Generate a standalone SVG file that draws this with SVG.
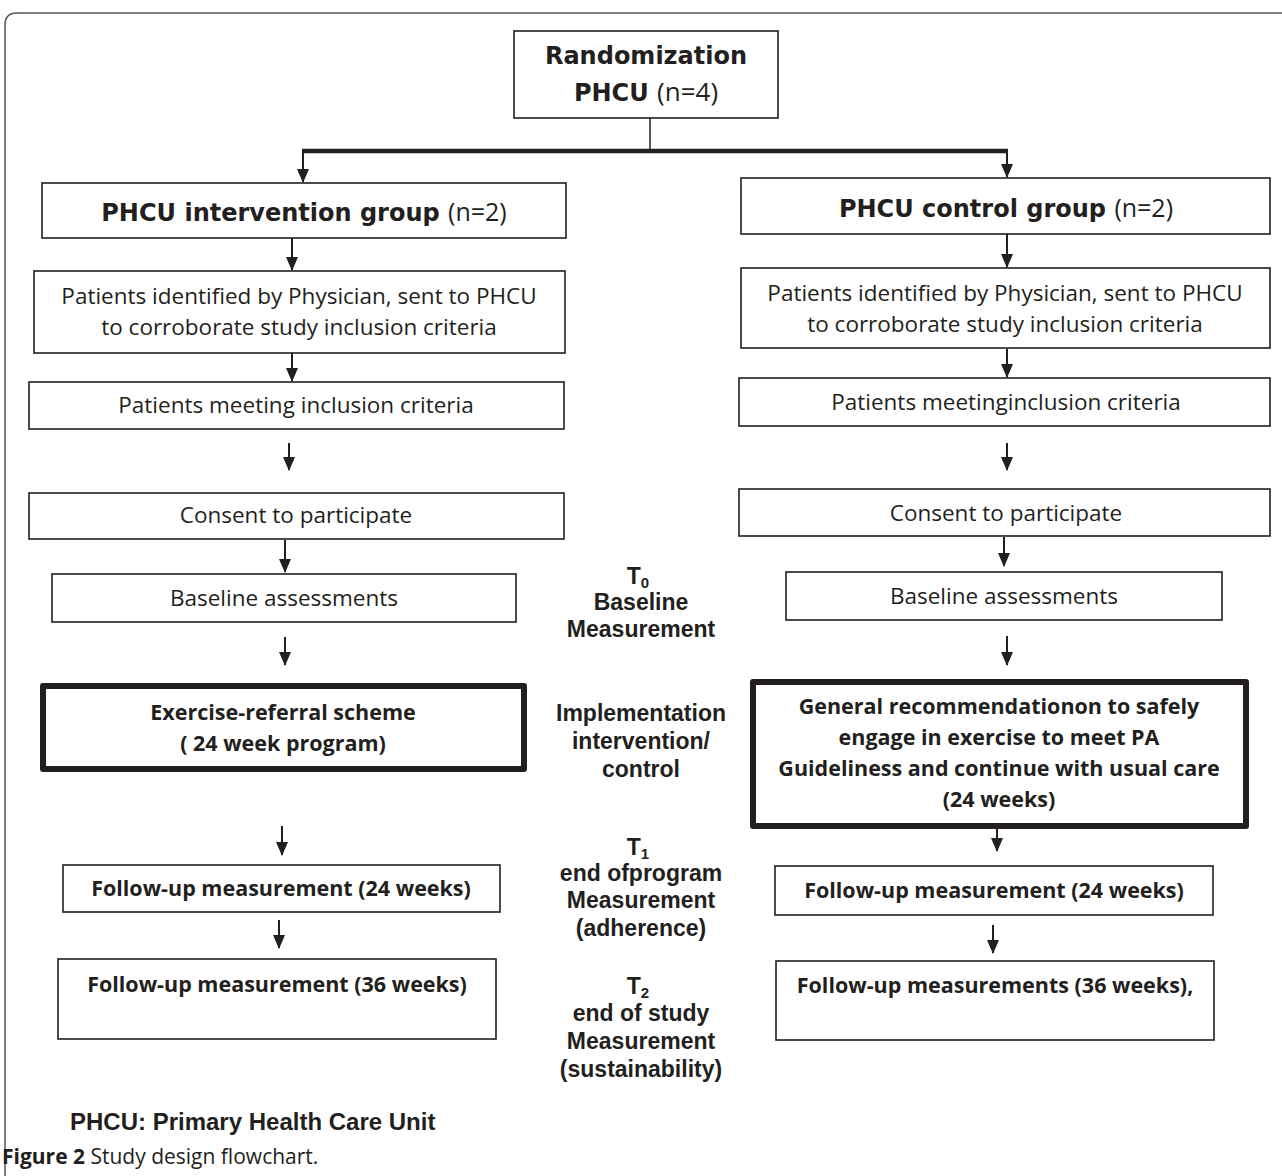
<svg xmlns="http://www.w3.org/2000/svg" width="1282" height="1176" viewBox="0 0 1282 1176">
<defs>
<marker id="ad" markerUnits="userSpaceOnUse" markerWidth="12" markerHeight="14" refX="6" refY="13" orient="0" viewBox="0 0 12 14">
<path d="M0,0 L12,0 L6,14 Z" fill="#231f20"/>
</marker>
</defs>
<style>
.box{fill:#fff;stroke:#231f20;stroke-width:1.6}
.thick{fill:#fff;stroke:#231f20;stroke-width:6;stroke-linejoin:round}
.t{font-family:"Open Sans","Liberation Sans",sans-serif;font-size:22.5px;fill:#231f20;text-anchor:middle}
.tb{font-family:"Open Sans","Liberation Sans",sans-serif;font-size:21.5px;font-weight:bold;fill:#231f20;text-anchor:middle}
.hv{font-family:"DejaVu Sans","Liberation Sans",sans-serif;font-weight:bold;font-size:24px;fill:#231f20;text-anchor:middle}
.reg{font-family:"Open Sans","Liberation Sans",sans-serif;font-weight:normal}
.mid{font-family:"Liberation Sans",Arial,sans-serif;font-weight:bold;font-size:23px;fill:#231f20;text-anchor:middle}
.sub{font-size:15px}
.con line{stroke:#231f20;stroke-width:2;marker-end:url(#ad)}
</style>
<rect width="1282" height="1176" fill="#fff"/>
<path d="M5,1176 L5,25 Q5,13 17,13 L1282,13" fill="none" stroke="#555" stroke-width="1.5"/>

<g id="randomization">
<rect class="box" x="514" y="31" width="264" height="87"/>
<text class="hv" x="646" y="64">Randomization</text>
<text class="hv" x="646" y="101">PHCU <tspan class="reg" font-size="26">(n=4)</tspan></text>
</g>

<g id="connectors">
<line x1="650" y1="118" x2="650" y2="151" stroke="#231f20" stroke-width="1.5"/>
<line x1="302" y1="151" x2="1008" y2="151" stroke="#231f20" stroke-width="4.5"/>
<g class="con">
<line x1="303" y1="151" x2="303" y2="182"/>
<line x1="1007" y1="151" x2="1007" y2="177"/>
<line x1="292" y1="238" x2="292" y2="270"/>
<line x1="292" y1="353" x2="292" y2="381"/>
<line x1="289" y1="443" x2="289" y2="470"/>
<line x1="285" y1="540" x2="285" y2="572"/>
<line x1="285" y1="637" x2="285" y2="665"/>
<line x1="282" y1="826" x2="282" y2="855"/>
<line x1="279" y1="920" x2="279" y2="948"/>
<line x1="1007" y1="234" x2="1007" y2="267"/>
<line x1="1007" y1="349" x2="1007" y2="377"/>
<line x1="1007" y1="443" x2="1007" y2="470"/>
<line x1="1004" y1="537" x2="1004" y2="566"/>
<line x1="1007" y1="636" x2="1007" y2="665"/>
<line x1="997" y1="829" x2="997" y2="851"/>
<line x1="993" y1="925" x2="993" y2="953"/>
</g>
</g>

<g id="left-group">
<rect class="box" x="42" y="183" width="524" height="55"/>
<text class="hv" x="304" y="221">PHCU intervention group <tspan class="reg" font-size="25">(n=2)</tspan></text>
</g>
<g id="right-group">
<rect class="box" x="741" y="178" width="529" height="56"/>
<text class="hv" x="1006" y="217">PHCU control group <tspan class="reg" font-size="25">(n=2)</tspan></text>
</g>

<g id="left-identified">
<rect class="box" x="34" y="271" width="531" height="82"/>
<text class="t" x="299" y="304">Patients identified by Physician, sent to PHCU</text>
<text class="t" x="299" y="335">to corroborate study inclusion criteria</text>
</g>
<g id="right-identified">
<rect class="box" x="741" y="268" width="529" height="80"/>
<text class="t" x="1005" y="301">Patients identified by Physician, sent to PHCU</text>
<text class="t" x="1005" y="332">to corroborate study inclusion criteria</text>
</g>

<g id="left-meeting">
<rect class="box" x="29" y="382" width="535" height="47"/>
<text class="t" x="296" y="413">Patients meeting inclusion criteria</text>
</g>
<g id="right-meeting">
<rect class="box" x="739" y="378" width="531" height="48"/>
<text class="t" x="1006" y="410">Patients meetinginclusion criteria</text>
</g>

<g id="left-consent">
<rect class="box" x="29" y="493" width="535" height="46"/>
<text class="t" x="296" y="523">Consent to participate</text>
</g>
<g id="right-consent">
<rect class="box" x="739" y="489" width="531" height="47"/>
<text class="t" x="1006" y="521">Consent to participate</text>
</g>

<g id="left-baseline">
<rect class="box" x="52" y="574" width="464" height="48"/>
<text class="t" x="284" y="606">Baseline assessments</text>
</g>
<g id="right-baseline">
<rect class="box" x="786" y="572" width="436" height="48"/>
<text class="t" x="1004" y="604">Baseline assessments</text>
</g>

<g id="left-scheme">
<rect class="thick" x="43" y="686" width="481" height="83"/>
<text class="tb" x="283" y="720">Exercise-referral scheme</text>
<text class="tb" x="283" y="751">( 24 week program)</text>
</g>
<g id="right-recommendation">
<rect class="thick" x="753" y="682" width="493" height="144"/>
<text class="tb" x="999" y="714">General recommendationon to safely</text>
<text class="tb" x="999" y="745">engage in exercise to meet PA</text>
<text class="tb" x="999" y="776">Guideliness and continue with usual care</text>
<text class="tb" x="999" y="807">(24 weeks)</text>
</g>

<g id="left-follow24">
<rect class="box" x="63" y="865" width="437" height="47"/>
<text class="tb" x="281" y="896">Follow-up measurement (24 weeks)</text>
</g>
<g id="right-follow24">
<rect class="box" x="775" y="866" width="438" height="49"/>
<text class="tb" x="994" y="898">Follow-up measurement (24 weeks)</text>
</g>

<g id="left-follow36">
<rect class="box" x="58" y="959" width="438" height="80"/>
<text class="tb" x="277" y="992">Follow-up measurement (36 weeks)</text>
</g>
<g id="right-follow36">
<rect class="box" x="776" y="961" width="438" height="79"/>
<text class="tb" x="995" y="993">Follow-up measurements (36 weeks),</text>
</g>

<g id="t0-label">
<text class="mid" x="638" y="584">T<tspan class="sub" dy="4">0</tspan></text>
<text class="mid" x="641" y="610">Baseline</text>
<text class="mid" x="641" y="637">Measurement</text>
</g>
<g id="implementation-label">
<text class="mid" x="641" y="721">Implementation</text>
<text class="mid" x="641" y="749">intervention/</text>
<text class="mid" x="641" y="777">control</text>
</g>
<g id="t1-label">
<text class="mid" x="638" y="855">T<tspan class="sub" dy="4">1</tspan></text>
<text class="mid" x="641" y="881">end ofprogram</text>
<text class="mid" x="641" y="908">Measurement</text>
<text class="mid" x="641" y="936">(adherence)</text>
</g>
<g id="t2-label">
<text class="mid" x="638" y="994">T<tspan class="sub" dy="4">2</tspan></text>
<text class="mid" x="641" y="1021">end of study</text>
<text class="mid" x="641" y="1049">Measurement</text>
<text class="mid" x="641" y="1077">(sustainability)</text>
</g>

<text x="70" y="1130" font-family="'Liberation Sans',Arial,sans-serif" font-weight="bold" font-size="24" fill="#231f20">PHCU: Primary Health Care Unit</text>
<text x="2" y="1164" font-family="'Open Sans','Liberation Sans',sans-serif" font-size="21" fill="#231f20"><tspan font-weight="bold">Figure 2</tspan> Study design flowchart.</text>
</svg>
